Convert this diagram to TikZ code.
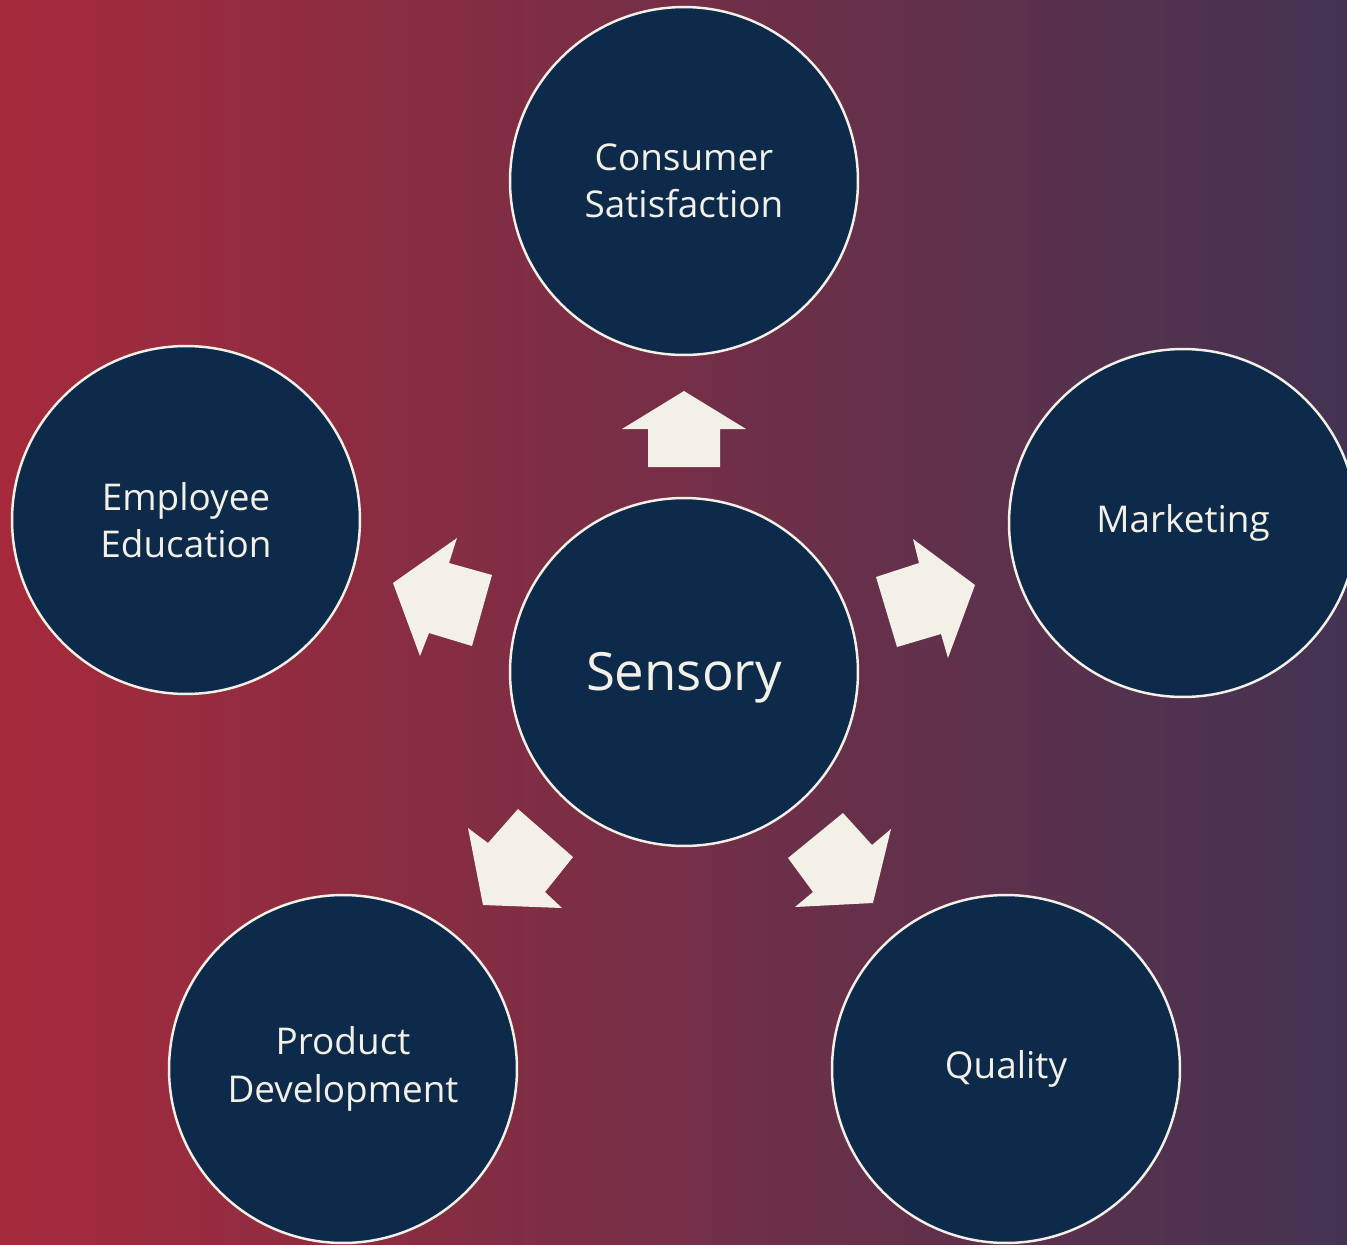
\documentclass[tikz,border=0pt]{standalone}
\usepackage{fontspec}
\setmainfont{Open Sans}
\definecolor{bgleft}{HTML}{A62A3B}
\definecolor{bgright}{HTML}{433352}
\definecolor{bubble}{HTML}{0D2A4A}
\definecolor{cream}{HTML}{F3F1E7}
\tikzset{
  bubblenode/.style={circle, draw=cream, line width=1.4pt, fill=bubble,
    minimum size=6.96cm, inner sep=0pt, align=center, text=cream,
    font=\fontsize{21}{27}\selectfont},
  hubnode/.style={bubblenode, font=\fontsize{30}{36}\selectfont},
  blockarrow/.style={fill=cream}
}
\begin{document}
\begin{tikzpicture}[x=0.02cm, y=-0.02cm]
  \useasboundingbox (0,0) rectangle (1347,1245);
  \clip (0,0) rectangle (1347,1245);
  % background gradient
  \shade[left color=bgleft, right color=bgright] (0,0) rectangle (1347,1245);

  % bubbles
  \node[hubnode]    (sensory)   at (684,672)  {};
  \node[text=cream, font=\fontsize{30}{36}\selectfont, yshift=-0.12cm]
    (sensorylabel) at (sensory.center) {Sensory};
  \node[bubblenode] (consumer)  at (684,181)  {Consumer\\Satisfaction};
  \node[bubblenode] (employee)  at (186,520)  {Employee\\Education};
  \node[bubblenode] (marketing) at (1183,523) {Marketing};
  \node[bubblenode] (product)   at (343,1069) {Product\\Development};
  \node[bubblenode] (quality)   at (1006,1069){Quality};

  % block arrows pointing outward from the hub
  \fill[blockarrow] (648,467) -- (648,429) -- (622,429) -- (684,391)
    -- (746,429) -- (720,429) -- (720,467) -- cycle;
  \fill[blockarrow] (876,577) -- (919,563) -- (913,539) -- (975,585)
    -- (948,658) -- (941,634) -- (897,647) -- cycle;
  \fill[blockarrow] (492,575) -- (449,563) -- (457,538) -- (393,583)
    -- (420,656) -- (429,633) -- (472,646) -- cycle;
  \fill[blockarrow] (518,809) -- (488,843) -- (468,828) -- (483,905)
    -- (562,908) -- (545,892) -- (573,857) -- cycle;
  \fill[blockarrow] (843,813) -- (872,845) -- (891,829) -- (873,903)
    -- (795,907) -- (813,892) -- (788,858) -- cycle;
\end{tikzpicture}
\end{document}
